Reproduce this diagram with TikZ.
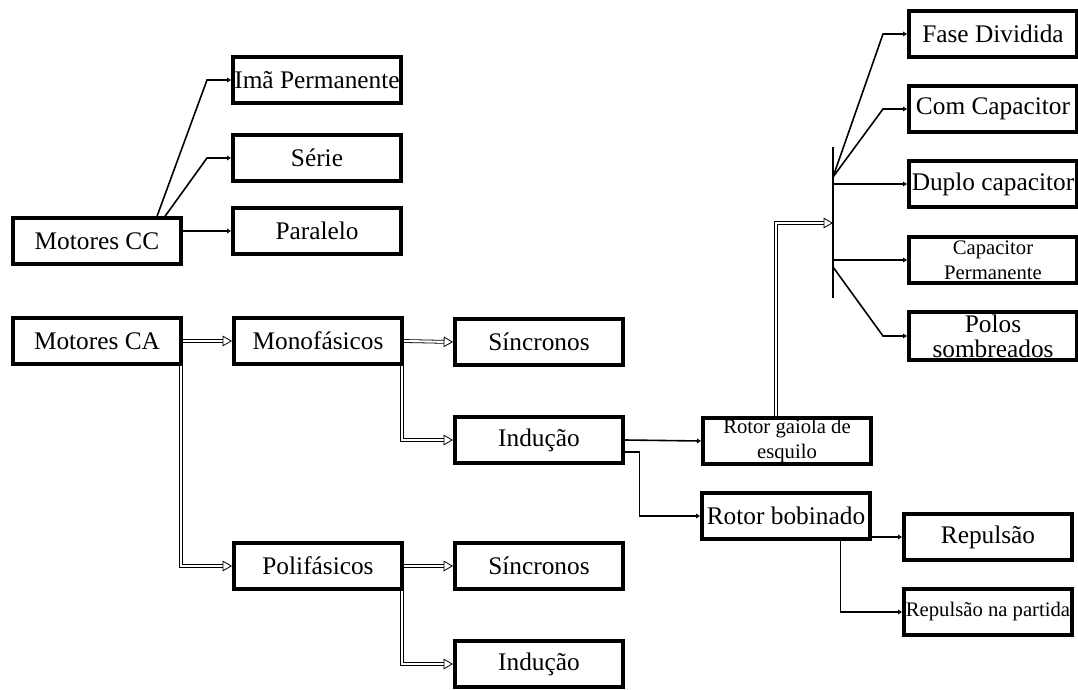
\documentclass[tikz,border=0pt]{standalone}
\usepackage{fontspec}
\setmainfont{Liberation Serif}
\usetikzlibrary{positioning,arrows.meta}

\begin{document}
\begin{tikzpicture}[x=0.75pt,y=-0.75pt,caixa/.style={draw, line width=3pt, minimum width=126pt, minimum height=34pt, inner xsep=1pt, inner ysep=0pt, align=center, font=\fontsize{19}{19}\selectfont},pequena/.style={font=\fontsize{15.5}{18.5}\selectfont},seta/.style={line width=1.2pt, -{Triangle[open,length=3pt,width=3.5pt]}},dupla/.style={double, double distance=1.6pt, line width=0.6pt, -{Triangle[open,length=7pt,width=8pt]}}]
\useasboundingbox (0,0) rectangle (1078,689);
% motores de corrente continua
\node[caixa] (cc) at (97,241) {Motores CC};
\node[caixa] (ima) at (317,80) {Imã Permanente};
\node[caixa] (serie) at (317,158) {Série};
\node[caixa] (paralelo) at (317,231) {Paralelo};
\draw[seta] ([xshift=45pt]cc.north) -- ([xshift=-18pt]ima.west) -- (ima.west);
\draw[seta] ([xshift=51pt]cc.north) -- ([xshift=-18pt]serie.west) -- (serie.west);
\draw[seta] (cc.east |- paralelo) -- (paralelo.west);
% motores de corrente alternada
\node[caixa] (ca) at (97,341) {Motores CA};
\node[caixa] (mono) at (318,341) {Monofásicos};
\node[caixa] (poli) at (318,566) {Polifásicos};
\node[caixa] (sinc1) at (539,342) {Síncronos};
\node[caixa] (ind1) at (539,440) {Indução};
\node[caixa] (sinc2) at (539,566) {Síncronos};
\node[caixa] (ind2) at (539,664) {Indução};
\draw[dupla] (ca.east) -- (mono.west);
\draw[dupla] ([xshift=-1.5pt]ca.south east) |- (poli.west);
\draw[dupla] (mono.east) -- (sinc1.west);
\draw[dupla] ([xshift=-1.5pt]mono.south east) |- (ind1.west);
\draw[dupla] (poli.east) -- (sinc2.west);
\draw[dupla] ([xshift=-1.5pt]poli.south east) |- (ind2.west);
% rotores
\node[caixa,pequena] (gaiola) at (787,441) {Rotor gaiola de\\esquilo};
\node[caixa] (bobinado) at (786,516) {Rotor bobinado};
\node[caixa] (rep) at (988,537) {Repulsão};
\node[caixa,pequena] (partida) at (988,612) {Repulsão na partida};
\draw[seta] (ind1.east) -- (gaiola.west);
\draw[seta] ([yshift=-9pt]ind1.east) -- ++(11pt,0) |- (bobinado.west);
\draw[seta] (bobinado.east |- rep) -- (rep.west);
\draw[seta] ([xshift=41pt]bobinado.south) |- (partida.west);
% tipos do rotor gaiola
\node[caixa] (fase) at (993,34) {Fase Dividida};
\node[caixa] (com) at (993,109) {Com Capacitor};
\node[caixa] (duplo) at (993,184) {Duplo capacitor};
\node[caixa,pequena] (capperm) at (993,260) {Capacitor\\Permanente};
\node[caixa,minimum height=36pt] (polos) at (993,336) {Polos\\sombreados};
\coordinate (barratopo) at (833,147);
\coordinate (barrabase) at (833,298);
\coordinate (barraentra) at (833,223);
\coordinate (b1) at (833,177);
\coordinate (b2) at (833,267);
\draw[line width=1.5pt] (barratopo) -- (barrabase);
\draw[dupla] ([xshift=-8pt]gaiola.north) |- (barraentra);
\draw[seta] (b1) -- ([xshift=-18pt]fase.west) -- (fase.west);
\draw[seta] (b1) -- ([xshift=-18pt]com.west) -- (com.west);
\draw[seta] (barratopo |- duplo) -- (duplo.west);
\draw[seta] (barratopo |- capperm) -- (capperm.west);
\draw[seta] (b2) -- ([xshift=-18pt]polos.west) -- (polos.west);
\end{tikzpicture}
\end{document}
